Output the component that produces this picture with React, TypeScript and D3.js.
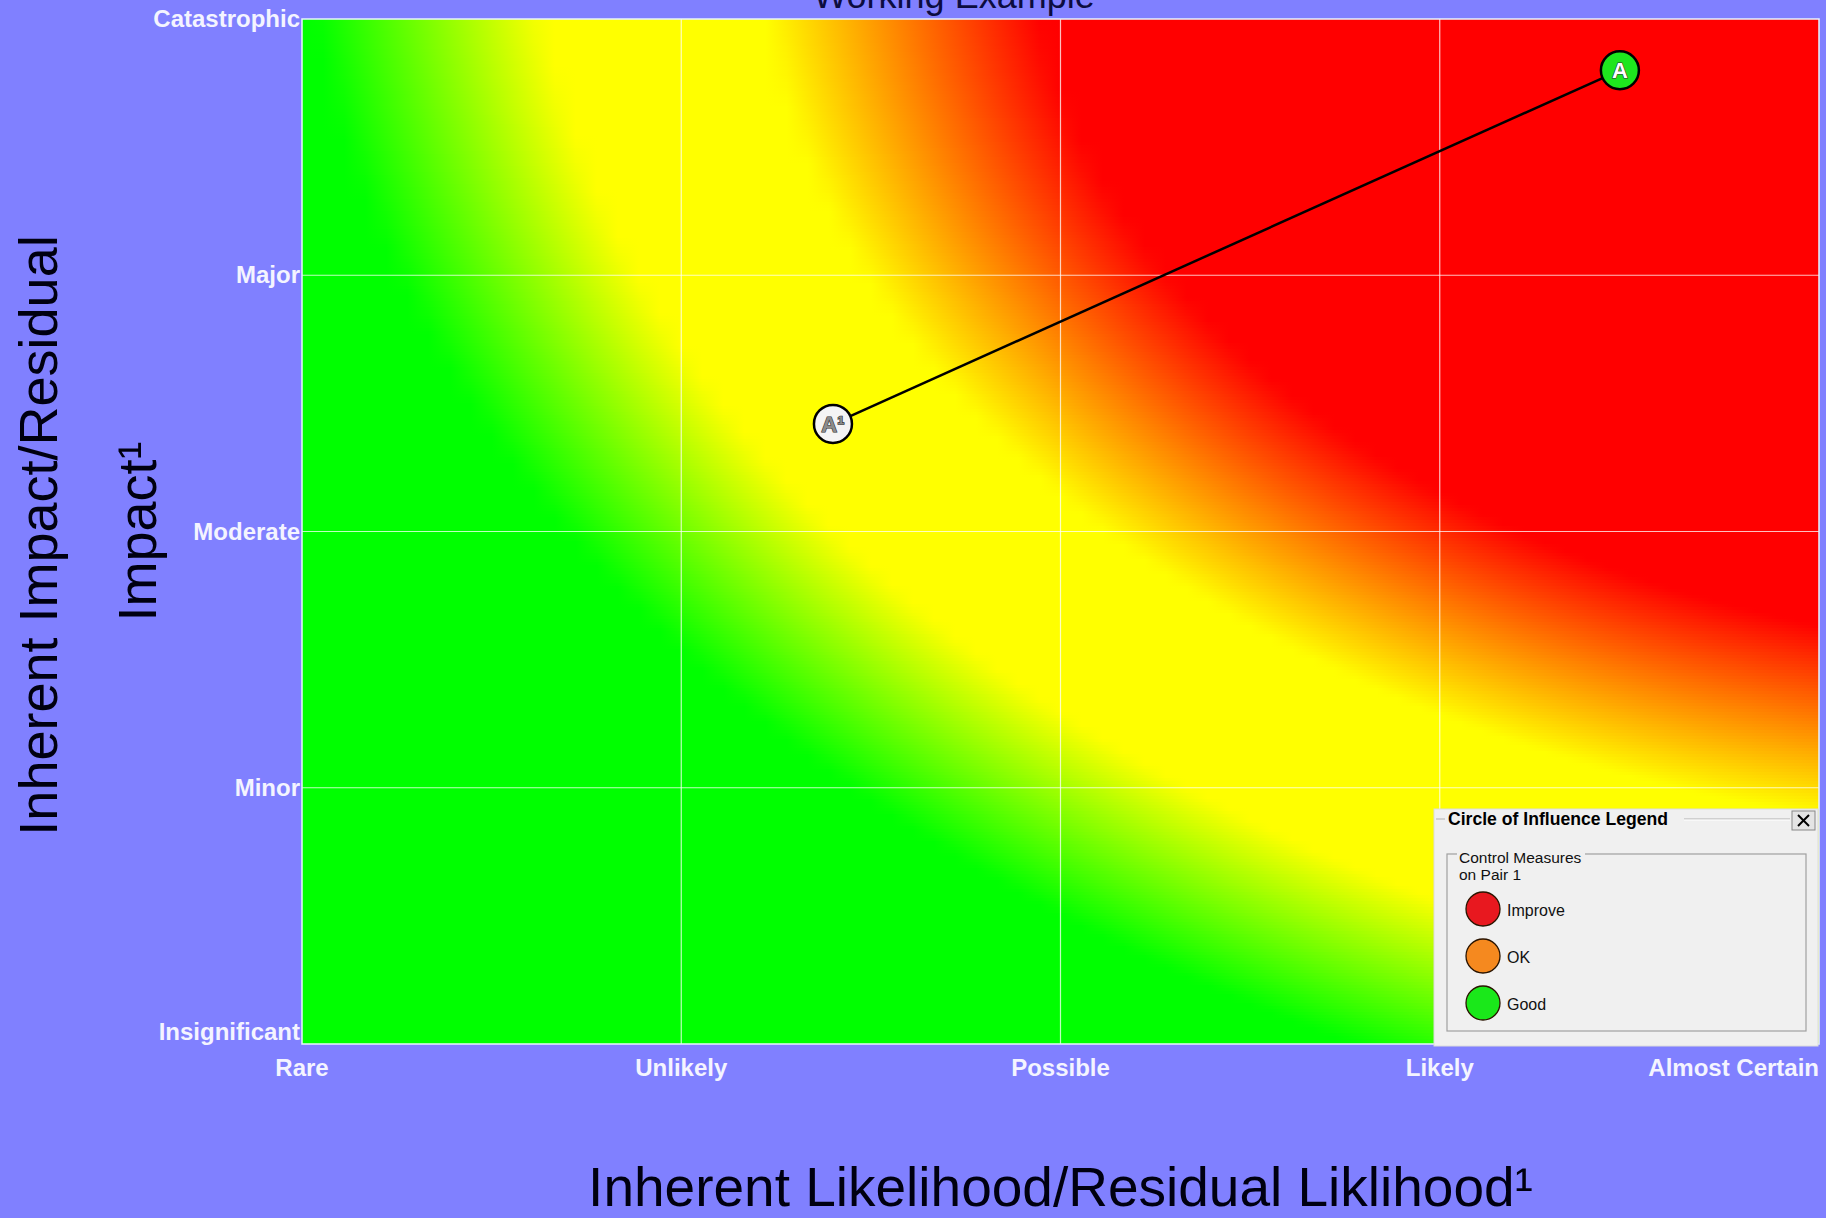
import React, { useEffect } from 'react';
import * as d3 from 'd3';

const W = 1826;
const H = 1218;

// Axis categories
const likelihoodLabels = ['Rare', 'Unlikely', 'Possible', 'Likely', 'Almost Certain'];
const impactLabels = ['Insignificant', 'Minor', 'Moderate', 'Major', 'Catastrophic'];

// Plotted pair (inherent A -> residual A¹)
const pointNames = ['A', 'A¹'];
const pointLikelihood = [4.475, 2.4];
const pointImpact = [4.8, 3.42];
const pointFill = ['#1ee61e', '#f4f4f4'];
const pointTextFill = ['#ffffff', '#8c8c8c'];

// Legend
const legendLabels = ['Improve', 'OK', 'Good'];
const legendColors = ['#e8181f', '#f5891f', '#1ae81a'];

// Risk background (normalised plot coords, 0..1 from bottom-left)
// red zone: distance from redCentre, red inside redRadii[0], yellow beyond redRadii[1]
const redCentre = [1.2, 1.1];
const redRadii = [0.72, 0.9];
// green zone: distance from greenCentre, yellow inside greenRadii[0], green beyond greenRadii[1]
const greenCentre = [1.3, 1.15];
const greenRadii = [1.15, 1.3];
const zoneColors = ['#00ff00', '#ffff00', '#ff0000'];

const PL = 302, PR = 1819, PT = 19, PB = 1044;
const FONT = '"Liberation Sans", Arial, Helvetica, sans-serif';

export default function App() {
  useEffect(() => {
    document.body.style.margin = '0';
    document.body.style.overflow = 'hidden';
  }, []);

  const x = d3.scaleLinear().domain([1, 5]).range([PL, PR]);
  const y = d3.scaleLinear().domain([1, 5]).range([PB, PT]);

  const redF = d3.scaleLinear().domain(redRadii).range([1, 0]).clamp(true);
  const greenF = d3.scaleLinear().domain(greenRadii).range([0, 1]).clamp(true);
  const toGreen = d3.interpolateRgb(zoneColors[1], zoneColors[0]);
  const toRed = d3.interpolateRgb(zoneColors[1], zoneColors[2]);

  const colorAt = (u: number, v: number) => {
    const fr = redF(Math.hypot(redCentre[0] - u, redCentre[1] - v));
    if (fr > 0) return toRed(fr);
    const fg = greenF(Math.hypot(greenCentre[0] - u, greenCentre[1] - v));
    return toGreen(fg);
  };

  const rowH = 3;
  const nRows = Math.ceil((PB - PT) / rowH);
  const nStops = 72;
  const rows = d3.range(nRows).map((i) => {
    const yc = PT + (i + 0.5) * rowH;
    const v = (y.invert(yc) - 1) / 4;
    const stops = d3.range(nStops + 1).map((s) => {
      const u = s / nStops;
      return { off: u, c: colorAt(u, v) };
    });
    return { y0: PT + i * rowH, stops };
  });

  const gridX = [2, 3, 4];
  const gridY = [2, 3, 4];

  // connecting line trimmed to circle edges
  const r = 19;
  const ax = x(pointLikelihood[0]), ay = y(pointImpact[0]);
  const bx = x(pointLikelihood[1]), by = y(pointImpact[1]);
  const len = Math.hypot(ax - bx, ay - by);
  const ux = (ax - bx) / len, uy = (ay - by) / len;

  const legendCy = [909, 956, 1003];

  return (
    <svg
      width={W}
      height={H}
      style={{ position: 'absolute', left: 0, top: 0, display: 'block' }}
      fontFamily={FONT}
    >
      <defs>
        {rows.map((row, i) => (
          <linearGradient key={i} id={`rg${i}`} x1="0" x2="1" y1="0" y2="0">
            {row.stops.map((s, j) => (
              <stop key={j} offset={s.off} stopColor={s.c} />
            ))}
          </linearGradient>
        ))}
        <clipPath id="plotClip">
          <rect x={PL} y={PT} width={PR - PL} height={PB - PT} />
        </clipPath>
      </defs>

      <rect x={0} y={0} width={W} height={H} fill="#8080ff" />

      {/* title */}
      <text x={954} y={8} textAnchor="middle" fontSize={36} fill="#0c0c40">
        Working Example
      </text>

      {/* heat map */}
      <g clipPath="url(#plotClip)">
        {rows.map((row, i) => (
          <rect
            key={i}
            x={PL}
            y={row.y0}
            width={PR - PL}
            height={rowH + 0.6}
            fill={`url(#rg${i})`}
          />
        ))}
      </g>

      {/* grid */}
      {gridX.map((g) => (
        <line key={`gx${g}`} x1={x(g)} x2={x(g)} y1={PT} y2={PB} stroke="#ffffff" strokeOpacity={0.75} strokeWidth={1.2} />
      ))}
      {gridY.map((g) => (
        <line key={`gy${g}`} x1={PL} x2={PR} y1={y(g)} y2={y(g)} stroke="#ffffff" strokeOpacity={0.75} strokeWidth={1.2} />
      ))}
      <rect x={PL} y={PT} width={PR - PL} height={PB - PT} fill="none" stroke="#e8f4ff" strokeWidth={1.5} />

      {/* y tick labels */}
      {impactLabels.map((lab, i) => (
        <text
          key={lab}
          x={PL - 2}
          y={i === 0 ? y(i + 1) - 4 : y(i + 1) + 8}
          textAnchor="end"
          fontSize={24}
          fontWeight="bold"
          fill="#f4f4ff"
        >
          {lab}
        </text>
      ))}

      {/* x tick labels */}
      {likelihoodLabels.map((lab, i) => (
        <text
          key={lab}
          x={x(i + 1)}
          y={1076}
          textAnchor={i === likelihoodLabels.length - 1 ? 'end' : 'middle'}
          fontSize={24}
          fontWeight="bold"
          fill="#f4f4ff"
        >
          {lab}
        </text>
      ))}

      {/* axis titles */}
      <text x={(PL + PR) / 2} y={1206} textAnchor="middle" fontSize={55} fill="#000010">
        Inherent Likelihood/Residual Liklihood¹
      </text>
      <text transform={`translate(57, ${(PT + PB) / 2 + 4}) rotate(-90)`} textAnchor="middle" fontSize={54} fill="#000010">
        Inherent Impact/Residual
      </text>
      <text transform={`translate(156, ${(PT + PB) / 2}) rotate(-90)`} textAnchor="middle" fontSize={54} fill="#000010">
        Impact¹
      </text>

      {/* connecting line */}
      <line
        x1={bx + ux * r}
        y1={by + uy * r}
        x2={ax - ux * r}
        y2={ay - uy * r}
        stroke="#000000"
        strokeWidth={2.5}
      />

      {/* markers */}
      {pointNames.map((name, i) => {
        const cx = x(pointLikelihood[i]);
        const cy = y(pointImpact[i]);
        return (
          <g key={name}>
            <circle cx={cx} cy={cy} r={r} fill={pointFill[i]} stroke="#000000" strokeWidth={2.5} />
            <text
              x={cx}
              y={cy + 8}
              textAnchor="middle"
              fontSize={22}
              fontWeight="bold"
              fill={pointTextFill[i]}
              stroke="#303030"
              strokeWidth={1.2}
              paintOrder="stroke"
            >
              {name}
            </text>
          </g>
        );
      })}

      {/* legend panel */}
      <g>
        <rect x={1434} y={809} width={384} height={237} fill="#f0f0f0" stroke="#dcdcdc" strokeWidth={1} />
        <line x1={1436} x2={1445} y1={819} y2={819} stroke="#b0b0b0" />
        <line x1={1684} x2={1790} y1={819} y2={819} stroke="#b0b0b0" />
        <line x1={1684} x2={1790} y1={820} y2={820} stroke="#ffffff" />
        <text x={1448} y={825} fontSize={17.6} fontWeight="bold" fill="#000000">
          Circle of Influence Legend
        </text>
        <rect x={1792} y={811} width={23} height={19} fill="#e4e4e4" stroke="#888888" />
        <line x1={1798} y1={815} x2={1809} y2={826} stroke="#000" strokeWidth={2} />
        <line x1={1809} y1={815} x2={1798} y2={826} stroke="#000" strokeWidth={2} />

        <rect x={1447} y={854} width={359} height={177} fill="none" stroke="#a0a0a0" strokeWidth={1.2} />
        <rect x={1457} y={849} width={128} height={9} fill="#f0f0f0" />
        <text x={1459} y={863} fontSize={15.5} fill="#111111">
          Control Measures
        </text>
        <text x={1459} y={880} fontSize={15.5} fill="#111111">
          on Pair 1
        </text>
        {legendLabels.map((lab, i) => (
          <g key={lab}>
            <circle cx={1483} cy={legendCy[i]} r={17} fill={legendColors[i]} stroke="#2a1400" strokeWidth={1.3} />
            <text x={1507} y={legendCy[i] + 7} fontSize={16} fill="#111111">
              {lab}
            </text>
          </g>
        ))}
      </g>
    </svg>
  );
}
